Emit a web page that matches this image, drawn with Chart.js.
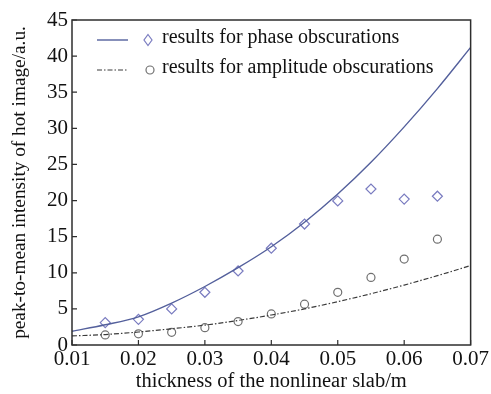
<!DOCTYPE html>
<html>
<head>
<meta charset="utf-8">
<script src="https://cdn.jsdelivr.net/npm/chart.js@4/dist/chart.umd.min.js"></script>
<style>
html,body{margin:0;padding:0;background:#fff;}
#wrap{width:491px;height:394px;position:relative;}
</style>
</head>
<body>
<div id="wrap"><canvas id="c" width="491" height="394"></canvas></div>
<script>
// Measured points
const thickness = [0.015, 0.02, 0.025, 0.03, 0.035, 0.04, 0.045, 0.05, 0.055, 0.06, 0.065];
const phaseResults = [3.1, 3.55, 5.0, 7.3, 10.25, 13.4, 16.75, 19.95, 21.6, 20.2, 20.6];
const amplitudeResults = [1.4, 1.55, 1.75, 2.4, 3.25, 4.3, 5.65, 7.3, 9.35, 11.9, 14.65];
// Theory curves
const curveX = [0.01, 0.015, 0.02, 0.025, 0.03, 0.035, 0.04, 0.045, 0.05, 0.055, 0.06, 0.065, 0.07];
const phaseCurve = [1.9, 2.8, 3.9, 5.8, 8.1, 10.7, 13.6, 17.0, 20.9, 25.3, 30.2, 35.5, 41.2];
const amplitudeCurve = [1.25, 1.45, 1.8, 2.25, 2.75, 3.4, 4.15, 5.0, 6.0, 7.1, 8.3, 9.6, 11.0];
const xTicks = [0.01, 0.02, 0.03, 0.04, 0.05, 0.06, 0.07];
const yTicks = [0, 5, 10, 15, 20, 25, 30, 35, 40, 45];
const legendLabels = ['results for phase obscurations', 'results for amplitude obscurations'];
const xTitle = 'thickness of the nonlinear slab/m';
const yTitle = 'peak-to-mean intensity of hot image/a.u.';

const FONT = "'Liberation Serif', 'Times New Roman', serif";
const phaseLineColor = '#54609c';
const diamondColor = '#7a7cc0';
const ampLineColor = '#3a3a3a';
const circleColor = '#707070';

const pts = (xs, ys) => xs.map((x, i) => ({x: x, y: ys[i]}));

const framePlugin = {
  id: 'frame',
  afterDatasetsDraw(chart) {
    const {ctx, chartArea: a, scales: {x, y}} = chart;
    ctx.save();
    ctx.strokeStyle = '#2e2e2e';
    ctx.lineWidth = 1.5;
    ctx.strokeRect(a.left, a.top, a.right - a.left, a.bottom - a.top);
    ctx.lineWidth = 1.2;
    ctx.beginPath();
    xTicks.forEach(v => {
      const px = x.getPixelForValue(v);
      ctx.moveTo(px, a.bottom);
      ctx.lineTo(px, a.bottom - 5);
    });
    yTicks.forEach(v => {
      const py = y.getPixelForValue(v);
      ctx.moveTo(a.left, py);
      ctx.lineTo(a.left + 5, py);
    });
    ctx.stroke();
    // legend
    ctx.font = '20px ' + FONT;
    ctx.textBaseline = 'middle';
    ctx.fillStyle = '#111';
    // row 1
    let ly = 40;
    ctx.strokeStyle = phaseLineColor;
    ctx.lineWidth = 1.4;
    ctx.setLineDash([]);
    ctx.beginPath(); ctx.moveTo(97, ly); ctx.lineTo(128, ly); ctx.stroke();
    ctx.strokeStyle = diamondColor;
    ctx.lineWidth = 1.2;
    ctx.beginPath();
    ctx.moveTo(148, ly - 5.5); ctx.lineTo(152, ly); ctx.lineTo(148, ly + 5.5); ctx.lineTo(144, ly); ctx.closePath();
    ctx.stroke();
    ctx.fillText(legendLabels[0], 162, ly - 2);
    // row 2
    ly = 70;
    ctx.strokeStyle = ampLineColor;
    ctx.lineWidth = 1.2;
    ctx.setLineDash([5, 2, 1.5, 2]);
    ctx.beginPath(); ctx.moveTo(97, ly); ctx.lineTo(128, ly); ctx.stroke();
    ctx.setLineDash([]);
    ctx.strokeStyle = circleColor;
    ctx.beginPath(); ctx.arc(150, ly, 4, 0, Math.PI * 2); ctx.stroke();
    ctx.fillText(legendLabels[1], 162, ly - 2);
    ctx.restore();
  }
};

new Chart(document.getElementById('c'), {
  type: 'scatter',
  data: {
    datasets: [
      {
        type: 'line', data: pts(curveX, phaseCurve), borderColor: phaseLineColor, borderWidth: 1.4,
        pointRadius: 0, cubicInterpolationMode: 'monotone', fill: false
      },
      {
        type: 'line', data: pts(curveX, amplitudeCurve), borderColor: ampLineColor, borderWidth: 1.2,
        borderDash: [5, 2, 1.5, 2], pointRadius: 0, cubicInterpolationMode: 'monotone', fill: false
      },
      {
        data: pts(thickness, phaseResults), pointStyle: 'rectRot', pointRadius: 5,
        borderColor: diamondColor, backgroundColor: 'rgba(255,255,255,0)', borderWidth: 1.2
      },
      {
        data: pts(thickness, amplitudeResults), pointStyle: 'circle', pointRadius: 4,
        borderColor: circleColor, backgroundColor: 'rgba(255,255,255,0)', borderWidth: 1.2
      }
    ]
  },
  options: {
    responsive: false,
    animation: false,
    layout: {padding: {top: 20, right: 19, left: 0, bottom: 0}},
    plugins: {legend: {display: false}, tooltip: {enabled: false}},
    scales: {
      x: {
        type: 'linear', min: 0.01, max: 0.07,
        afterFit(s) { s.height = 49; },
        afterBuildTicks(s) { s.ticks = xTicks.map(v => ({value: v})); },
        grid: {display: false, drawTicks: false},
        border: {display: false},
        ticks: {
          padding: 2, color: '#111', font: {family: FONT, size: 21},
          callback: v => v.toFixed(2), maxRotation: 0, autoSkip: false
        },
        title: {display: true, text: xTitle, color: '#111', font: {family: FONT, size: 20.5}, padding: 0}
      },
      y: {
        min: 0, max: 45,
        afterFit(s) { s.width = 72; },
        afterBuildTicks(s) { s.ticks = yTicks.map(v => ({value: v})); },
        grid: {display: false, drawTicks: false},
        border: {display: false},
        ticks: {padding: 4, color: '#111', font: {family: FONT, size: 21}, autoSkip: false},
        title: {display: true, text: yTitle, color: '#111', font: {family: FONT, size: 19.3}, padding: 8.5}
      }
    }
  },
  plugins: [framePlugin]
});
</script>
</body>
</html>
